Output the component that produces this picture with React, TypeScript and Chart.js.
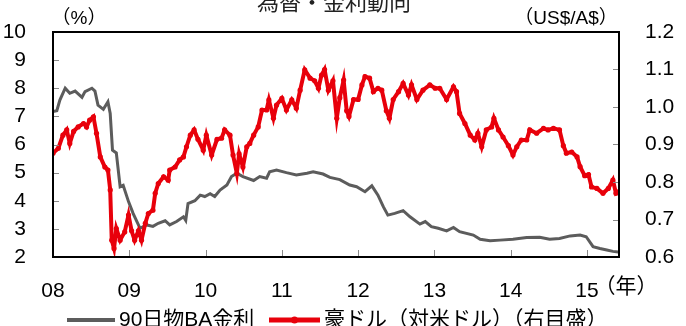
import React, { useEffect, useRef } from "react";
import { Chart, registerables } from "chart.js";

Chart.register(...registerables);

const TITLE = "為替・金利動向";
const LEFT_UNIT = "（%）";
const RIGHT_UNIT = "（US$/A$）";
const X_UNIT = "（年）";
const BA_LABEL = "90日物BA金利";
const AUD_LABEL = "豪ドル（対米ドル）（右目盛）";

const yearTicks = [2008, 2009, 2010, 2011, 2012, 2013, 2014, 2015];
const yearLabels = ["08", "09", "10", "11", "12", "13", "14", "15"];
const leftTicks = [2, 3, 4, 5, 6, 7, 8, 9, 10];
const rightTicks = [0.6, 0.7, 0.8, 0.9, 1.0, 1.1, 1.2];

// 90-day BA rate (%), left axis
const baYears = [
  2008.0, 2008.05, 2008.09, 2008.16, 2008.22, 2008.29, 2008.38, 2008.42, 2008.51, 2008.55,
  2008.59, 2008.66, 2008.72, 2008.75, 2008.78, 2008.83, 2008.88, 2008.92, 2008.99, 2009.05,
  2009.12, 2009.14, 2009.23, 2009.31, 2009.38, 2009.47, 2009.53, 2009.62, 2009.71, 2009.74,
  2009.77, 2009.86, 2009.93, 2009.99, 2010.06, 2010.12, 2010.19, 2010.28, 2010.34, 2010.41,
  2010.49, 2010.63, 2010.71, 2010.8, 2010.84, 2010.93, 2011.06, 2011.19, 2011.33, 2011.41,
  2011.54, 2011.63, 2011.76, 2011.89, 2011.98, 2012.09, 2012.18, 2012.26, 2012.33, 2012.39,
  2012.48, 2012.59, 2012.68, 2012.81, 2012.88, 2012.96, 2013.05, 2013.16, 2013.25, 2013.33,
  2013.51, 2013.6, 2013.73, 2013.86, 2014.03, 2014.21, 2014.38, 2014.51, 2014.64, 2014.78,
  2014.91, 2014.99, 2015.08, 2015.17, 2015.26, 2015.34, 2015.41,
];
const baRates = [
  7.17, 7.2, 7.58, 8.0, 7.82, 7.9, 7.68, 7.88, 8.0, 7.9,
  7.4, 7.25, 7.52, 7.1, 5.8, 5.7, 4.5, 4.55, 3.97, 3.55,
  3.14, 3.02, 3.14, 3.09, 3.2, 3.29, 3.14, 3.26, 3.43, 3.3,
  3.9, 4.0, 4.2, 4.15, 4.25, 4.15, 4.38, 4.56, 4.86, 4.98,
  4.86, 4.72, 4.86, 4.8, 5.03, 5.09, 5.0, 4.92, 4.98, 5.03,
  4.95, 4.83, 4.75, 4.56, 4.5, 4.32, 4.53, 4.2, 3.79, 3.49,
  3.55, 3.65, 3.43, 3.17, 3.26, 3.08, 3.02, 2.93, 3.05, 2.9,
  2.78, 2.63, 2.58, 2.6, 2.63, 2.69, 2.7, 2.63, 2.66, 2.75,
  2.78, 2.72, 2.37, 2.3, 2.25, 2.2, 2.18,
];

// AUD/USD, right axis
const audYears = [
  2008.0, 2008.07, 2008.13, 2008.18, 2008.22, 2008.27, 2008.33, 2008.4, 2008.44, 2008.48,
  2008.53, 2008.57, 2008.62, 2008.68, 2008.72, 2008.75, 2008.77, 2008.8, 2008.83, 2008.88,
  2008.94, 2008.99, 2009.03, 2009.07, 2009.12, 2009.16, 2009.21, 2009.25, 2009.31, 2009.34,
  2009.38, 2009.45, 2009.51, 2009.53, 2009.6, 2009.66, 2009.71, 2009.75, 2009.8, 2009.85,
  2009.9, 2009.97, 2010.01, 2010.08, 2010.15, 2010.21, 2010.25, 2010.32, 2010.36, 2010.41,
  2010.44, 2010.49, 2010.54, 2010.58, 2010.63, 2010.69, 2010.74, 2010.8, 2010.83, 2010.89,
  2010.93, 2011.0, 2011.06, 2011.13, 2011.19, 2011.24, 2011.3, 2011.37, 2011.43, 2011.48,
  2011.52, 2011.56, 2011.61, 2011.67, 2011.72, 2011.76, 2011.81, 2011.85, 2011.88, 2011.94,
  2012.0, 2012.05, 2012.09, 2012.15, 2012.2, 2012.26, 2012.31, 2012.37, 2012.41, 2012.46,
  2012.53, 2012.59, 2012.66, 2012.7, 2012.77, 2012.85, 2012.94, 2013.01, 2013.07, 2013.16,
  2013.25, 2013.29, 2013.33, 2013.4, 2013.47, 2013.53, 2013.57, 2013.62, 2013.68, 2013.75,
  2013.78, 2013.84, 2013.9, 2013.97, 2014.03, 2014.08, 2014.14, 2014.21, 2014.25, 2014.34,
  2014.43, 2014.49, 2014.56, 2014.64, 2014.69, 2014.73, 2014.8, 2014.87, 2014.91, 2014.97,
  2015.02, 2015.06, 2015.13, 2015.21, 2015.28, 2015.34, 2015.38, 2015.41,
];
const audRates = [
  0.877, 0.89, 0.925, 0.939, 0.903, 0.935, 0.947, 0.956, 0.947, 0.965,
  0.974, 0.93, 0.867, 0.84, 0.832, 0.779, 0.645, 0.623, 0.676, 0.645,
  0.667, 0.712, 0.67, 0.645, 0.67, 0.645, 0.69, 0.716, 0.725, 0.77,
  0.796, 0.814, 0.805, 0.832, 0.84, 0.859, 0.867, 0.894, 0.925, 0.939,
  0.914, 0.885, 0.925, 0.872, 0.914, 0.917, 0.939, 0.925, 0.872, 0.823,
  0.875, 0.84, 0.894, 0.903, 0.925, 0.947, 0.992, 0.992, 1.019, 0.97,
  1.005, 1.023, 0.992, 1.019, 0.997, 1.045, 1.099, 1.077, 1.07, 1.05,
  1.085, 1.1, 1.045, 1.07, 0.97, 1.025, 1.072, 0.99, 0.975, 1.02,
  1.02, 1.059, 1.081, 1.077, 1.041, 1.05, 1.045, 0.99, 0.97, 1.02,
  1.041, 1.063, 1.032, 1.059, 1.02, 1.045, 1.059, 1.05, 1.05, 1.02,
  1.054, 1.041, 0.983, 0.956, 0.925, 0.912, 0.93, 0.894, 0.939, 0.947,
  0.97, 0.939, 0.92, 0.897, 0.872, 0.894, 0.912, 0.912, 0.939, 0.93,
  0.943, 0.939, 0.943, 0.939, 0.897, 0.877, 0.88, 0.867, 0.841, 0.817,
  0.82, 0.787, 0.783, 0.77, 0.783, 0.805, 0.77, 0.774,
];

const X_MIN = 2008;
const X_MAX = 2015.42;

const GRAY = "#5c5c5c";
const RED = "#e8000b";
const FONT = "'Liberation Sans', 'Noto Sans CJK JP', Arial, sans-serif";
const CJK = "'Noto Sans CJK JP', 'Liberation Sans', sans-serif";

export default function App() {
  const ref = useRef<HTMLCanvasElement>(null);

  useEffect(() => {
    const canvas = ref.current;
    if (!canvas) return;

    const decor = {
      id: "decor",
      afterDraw(chart: any) {
        const { ctx, chartArea: a, scales } = chart;
        ctx.save();
        // inner tick marks
        ctx.strokeStyle = "#8a8a8a";
        ctx.lineWidth = 1;
        ctx.beginPath();
        leftTicks.slice(1, -1).forEach((v) => {
          const y = Math.round(scales.y.getPixelForValue(v)) + 0.5;
          ctx.moveTo(a.left, y);
          ctx.lineTo(a.left + 6, y);
        });
        rightTicks.slice(1, -1).forEach((v) => {
          const y = Math.round(scales.y1.getPixelForValue(v)) + 0.5;
          ctx.moveTo(a.right - 6, y);
          ctx.lineTo(a.right, y);
        });
        yearTicks.slice(1).forEach((v) => {
          const x = Math.round(scales.x.getPixelForValue(v)) + 0.5;
          ctx.moveTo(x, a.bottom);
          ctx.lineTo(x, a.bottom - 7);
        });
        ctx.stroke();
        // frame
        ctx.strokeStyle = "#000";
        ctx.lineWidth = 2;
        ctx.strokeRect(a.left, a.top, a.right - a.left, a.bottom - a.top);

        // title
        ctx.fillStyle = "#222";
        ctx.textAlign = "center";
        ctx.textBaseline = "alphabetic";
        ctx.font = `22px ${CJK}`;
        ctx.fillText(TITLE, 334, 10);

        // units
        ctx.fillStyle = "#000";
        ctx.textBaseline = "middle";
        ctx.font = `19px ${FONT}`;
        ctx.fillText(LEFT_UNIT, 79, 19);
        ctx.fillText(RIGHT_UNIT, 566, 19);
        ctx.font = `21px ${FONT}`;
        ctx.fillText(X_UNIT, 626, 287);

        // legend
        const ly = 320;
        ctx.lineCap = "butt";
        ctx.strokeStyle = GRAY;
        ctx.lineWidth = 4;
        ctx.beginPath();
        ctx.moveTo(67, ly);
        ctx.lineTo(115, ly);
        ctx.stroke();
        ctx.strokeStyle = RED;
        ctx.lineWidth = 5;
        ctx.beginPath();
        ctx.moveTo(269, ly);
        ctx.lineTo(320, ly);
        ctx.stroke();
        ctx.fillStyle = RED;
        ctx.beginPath();
        ctx.arc(294.5, ly, 3.5, 0, Math.PI * 2);
        ctx.fill();
        ctx.fillStyle = "#000";
        ctx.textAlign = "left";
        ctx.font = `21px ${FONT}`;
        ctx.fillText(BA_LABEL, 119, ly);
        ctx.fillText(AUD_LABEL, 324, ly);
        ctx.restore();
      },
    };

    const chart = new Chart(canvas, {
      type: "line",
      data: {
        datasets: [
          {
            label: AUD_LABEL,
            data: audYears.map((x, i) => ({ x, y: audRates[i] })),
            yAxisID: "y1",
            borderColor: RED,
            backgroundColor: RED,
            borderWidth: 4,
            pointRadius: 2.6,
            pointBorderWidth: 0,
            pointBackgroundColor: RED,
            tension: 0,
            order: 0,
          },
          {
            label: BA_LABEL,
            data: baYears.map((x, i) => ({ x, y: baRates[i] })),
            yAxisID: "y",
            borderColor: GRAY,
            backgroundColor: GRAY,
            borderWidth: 3,
            pointRadius: 0,
            tension: 0,
            order: 1,
          },
        ],
      },
      plugins: [decor],
      options: {
        responsive: false,
        animation: false,
        layout: { padding: { top: 32, left: 0, right: 0, bottom: 0 } },
        plugins: {
          legend: { display: false },
          title: { display: false },
          tooltip: { enabled: false },
        },
        scales: {
          x: {
            type: "linear",
            min: X_MIN,
            max: X_MAX,
            grid: { display: false },
            border: { display: false },
            afterBuildTicks: (s: any) => {
              s.ticks = yearTicks.map((v) => ({ value: v }));
            },
            afterFit: (s: any) => {
              s.height = 69;
            },
            ticks: {
              autoSkip: false,
              maxRotation: 0,
              padding: 14,
              color: "#000",
              font: { family: FONT, size: 21 },
              callback: (v: any) => {
                const i = yearTicks.indexOf(Number(v));
                return i >= 0 ? yearLabels[i] : "";
              },
            },
          },
          y: {
            position: "left",
            min: 2,
            max: 10,
            grid: { display: false },
            border: { display: false },
            afterBuildTicks: (s: any) => {
              s.ticks = leftTicks.map((v) => ({ value: v }));
            },
            afterFit: (s: any) => {
              s.width = 53;
            },
            ticks: {
              autoSkip: false,
              padding: 19,
              color: "#000",
              font: { family: FONT, size: 21 },
              callback: (v: any) => String(v),
            },
          },
          y1: {
            position: "right",
            min: 0.6,
            max: 1.2,
            grid: { display: false },
            border: { display: false },
            afterBuildTicks: (s: any) => {
              s.ticks = rightTicks.map((v) => ({ value: v }));
            },
            afterFit: (s: any) => {
              s.width = 67;
            },
            ticks: {
              autoSkip: false,
              padding: 18,
              color: "#000",
              font: { family: FONT, size: 21 },
              callback: (v: any) => Number(v).toFixed(1),
            },
          },
        },
      },
    });

    return () => chart.destroy();
  }, []);

  return (
    <div style={{ position: "fixed", left: 0, top: 0, width: 686, height: 326, background: "#fff" }}>
      <canvas ref={ref} width={686} height={326} style={{ display: "block" }} />
    </div>
  );
}
